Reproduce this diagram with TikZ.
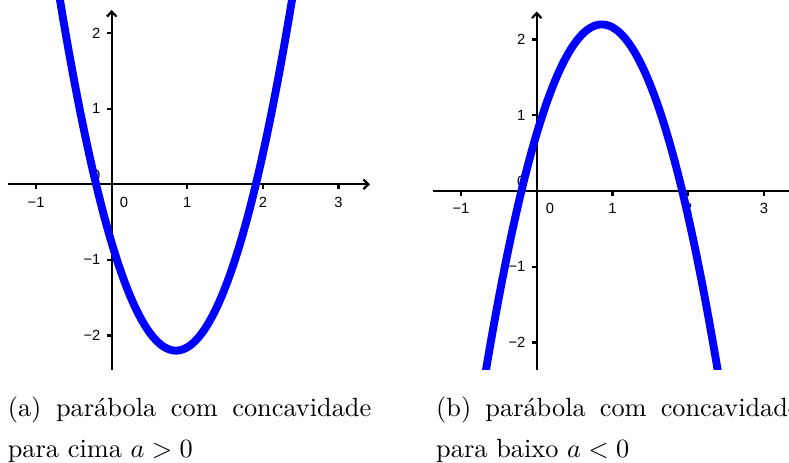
\documentclass[tikz,border=0pt]{standalone}
\usepackage{fontspec}
\newfontfamily\ticksf{Liberation Sans}
\usetikzlibrary{arrows.meta}
\definecolor{ggblue}{RGB}{0,0,255}
\begin{document}
\begin{tikzpicture}[x=0.38pt,y=-0.38pt,
  axis/.style={line width=0.85pt, black},
  axarrow/.style={-{Straight Barb[length=1.9pt,width=3.6pt]}},
  ticklab/.style={font=\ticksf\fontsize{5.6}{6}\selectfont, inner sep=0pt},
  curve/.style={line width=3pt, ggblue},
  captxt/.style={anchor=base west, inner sep=0pt}
]
\useasboundingbox (0,0) rectangle (789,463);
\clip (0,0) rectangle (789,463);

% ---------- left graph ----------
\begin{scope}[shift={(111.7,184.3)}, x=28.73pt, y=28.73pt]
  \coordinate (Lxs) at (-1.372,0);
  \coordinate (Lxe) at (3.417,0);
  \coordinate (Lys) at (0,-2.45);
  \coordinate (Lye) at (0,2.306);
  \draw[axis,axarrow] (Lxs) -- (Lxe);
  \draw[axis,axarrow] (Lys) -- (Lye);
  \foreach \t in {-1,1,2,3} \draw[axis] (\t,0) -- (\t,-0.06);
  \foreach \t in {-2,-1,1,2} \draw[axis] (0,\t) -- (-0.06,\t);
  \node[ticklab] (Lxm1) at (-1,-0.235) {−1};
  \node[ticklab] (Lx0) at (0.163,-0.234) {0};
  \node[ticklab] (Lx1) at (1,-0.235) {1};
  \node[ticklab] (Lx2) at (2,-0.235) {2};
  \node[ticklab] (Lx3) at (3,-0.235) {3};
  \node[ticklab,anchor=east] (Ly2) at (-0.142,2) {2};
  \node[ticklab,anchor=east] (Ly1) at (-0.142,1) {1};
  \node[ticklab,anchor=east] (Ly0) at (-0.142,0.12) {0};
  \node[ticklab,anchor=east] (Lym1) at (-0.142,-1) {−1};
  \node[ticklab,anchor=east] (Lym2) at (-0.142,-2) {−2};
  \draw[curve] plot[domain=-0.74:2.45, samples=120, smooth] (\x, {1.97*(\x-0.85)*(\x-0.85)-2.2});
\end{scope}

% ---------- right graph ----------
\begin{scope}[shift={(536.7,191)}, x=28.77pt, y=28.77pt]
  \clip (-2,2.6) rectangle (4,-2.36);
  \coordinate (Rxs) at (-1.37,0);
  \coordinate (Rxe) at (3.6,0);
  \coordinate (Rys) at (0,-2.4);
  \coordinate (Rye) at (0,2.37);
  \draw[axis] (Rxs) -- (Rxe);
  \draw[axis,axarrow] (Rys) -- (Rye);
  \foreach \t in {-1,1,2,3} \draw[axis] (\t,0) -- (\t,-0.06);
  \foreach \t in {-2,-1,1,2} \draw[axis] (0,\t) -- (-0.06,\t);
  \node[ticklab] (Rxm1) at (-1,-0.225) {−1};
  \node[ticklab] (Rx0) at (0.176,-0.225) {0};
  \node[ticklab] (Rx1) at (1,-0.225) {1};
  \node[ticklab] (Rx2) at (2,-0.225) {2};
  \node[ticklab] (Rx3) at (3,-0.225) {3};
  \node[ticklab,anchor=east] (Ry2) at (-0.142,2) {2};
  \node[ticklab,anchor=east] (Ry1) at (-0.142,1) {1};
  \node[ticklab,anchor=east] (Ry0) at (-0.142,0.12) {0};
  \node[ticklab,anchor=east] (Rym1) at (-0.142,-1) {−1};
  \node[ticklab,anchor=east] (Rym2) at (-0.142,-2) {−2};
  \draw[curve] plot[domain=-0.75:2.5, samples=120, smooth] (\x, {2.2-1.95*(\x-0.86)*(\x-0.86)});
\end{scope}

% ---------- captions ----------
\node[captxt] (capa1) at (7.3,416.5) {\makebox[138.1pt][s]{(a) parábola com concavidade}};
\node[captxt] (capa2) at (7.3,457.5) {para cima $a>0$};
\node[captxt] (capb1) at (435.7,416.5) {\makebox[138.1pt][s]{(b) parábola com concavidade}};
\node[captxt] (capb2) at (435.7,457.5) {para baixo $a<0$};
\end{tikzpicture}
\end{document}
